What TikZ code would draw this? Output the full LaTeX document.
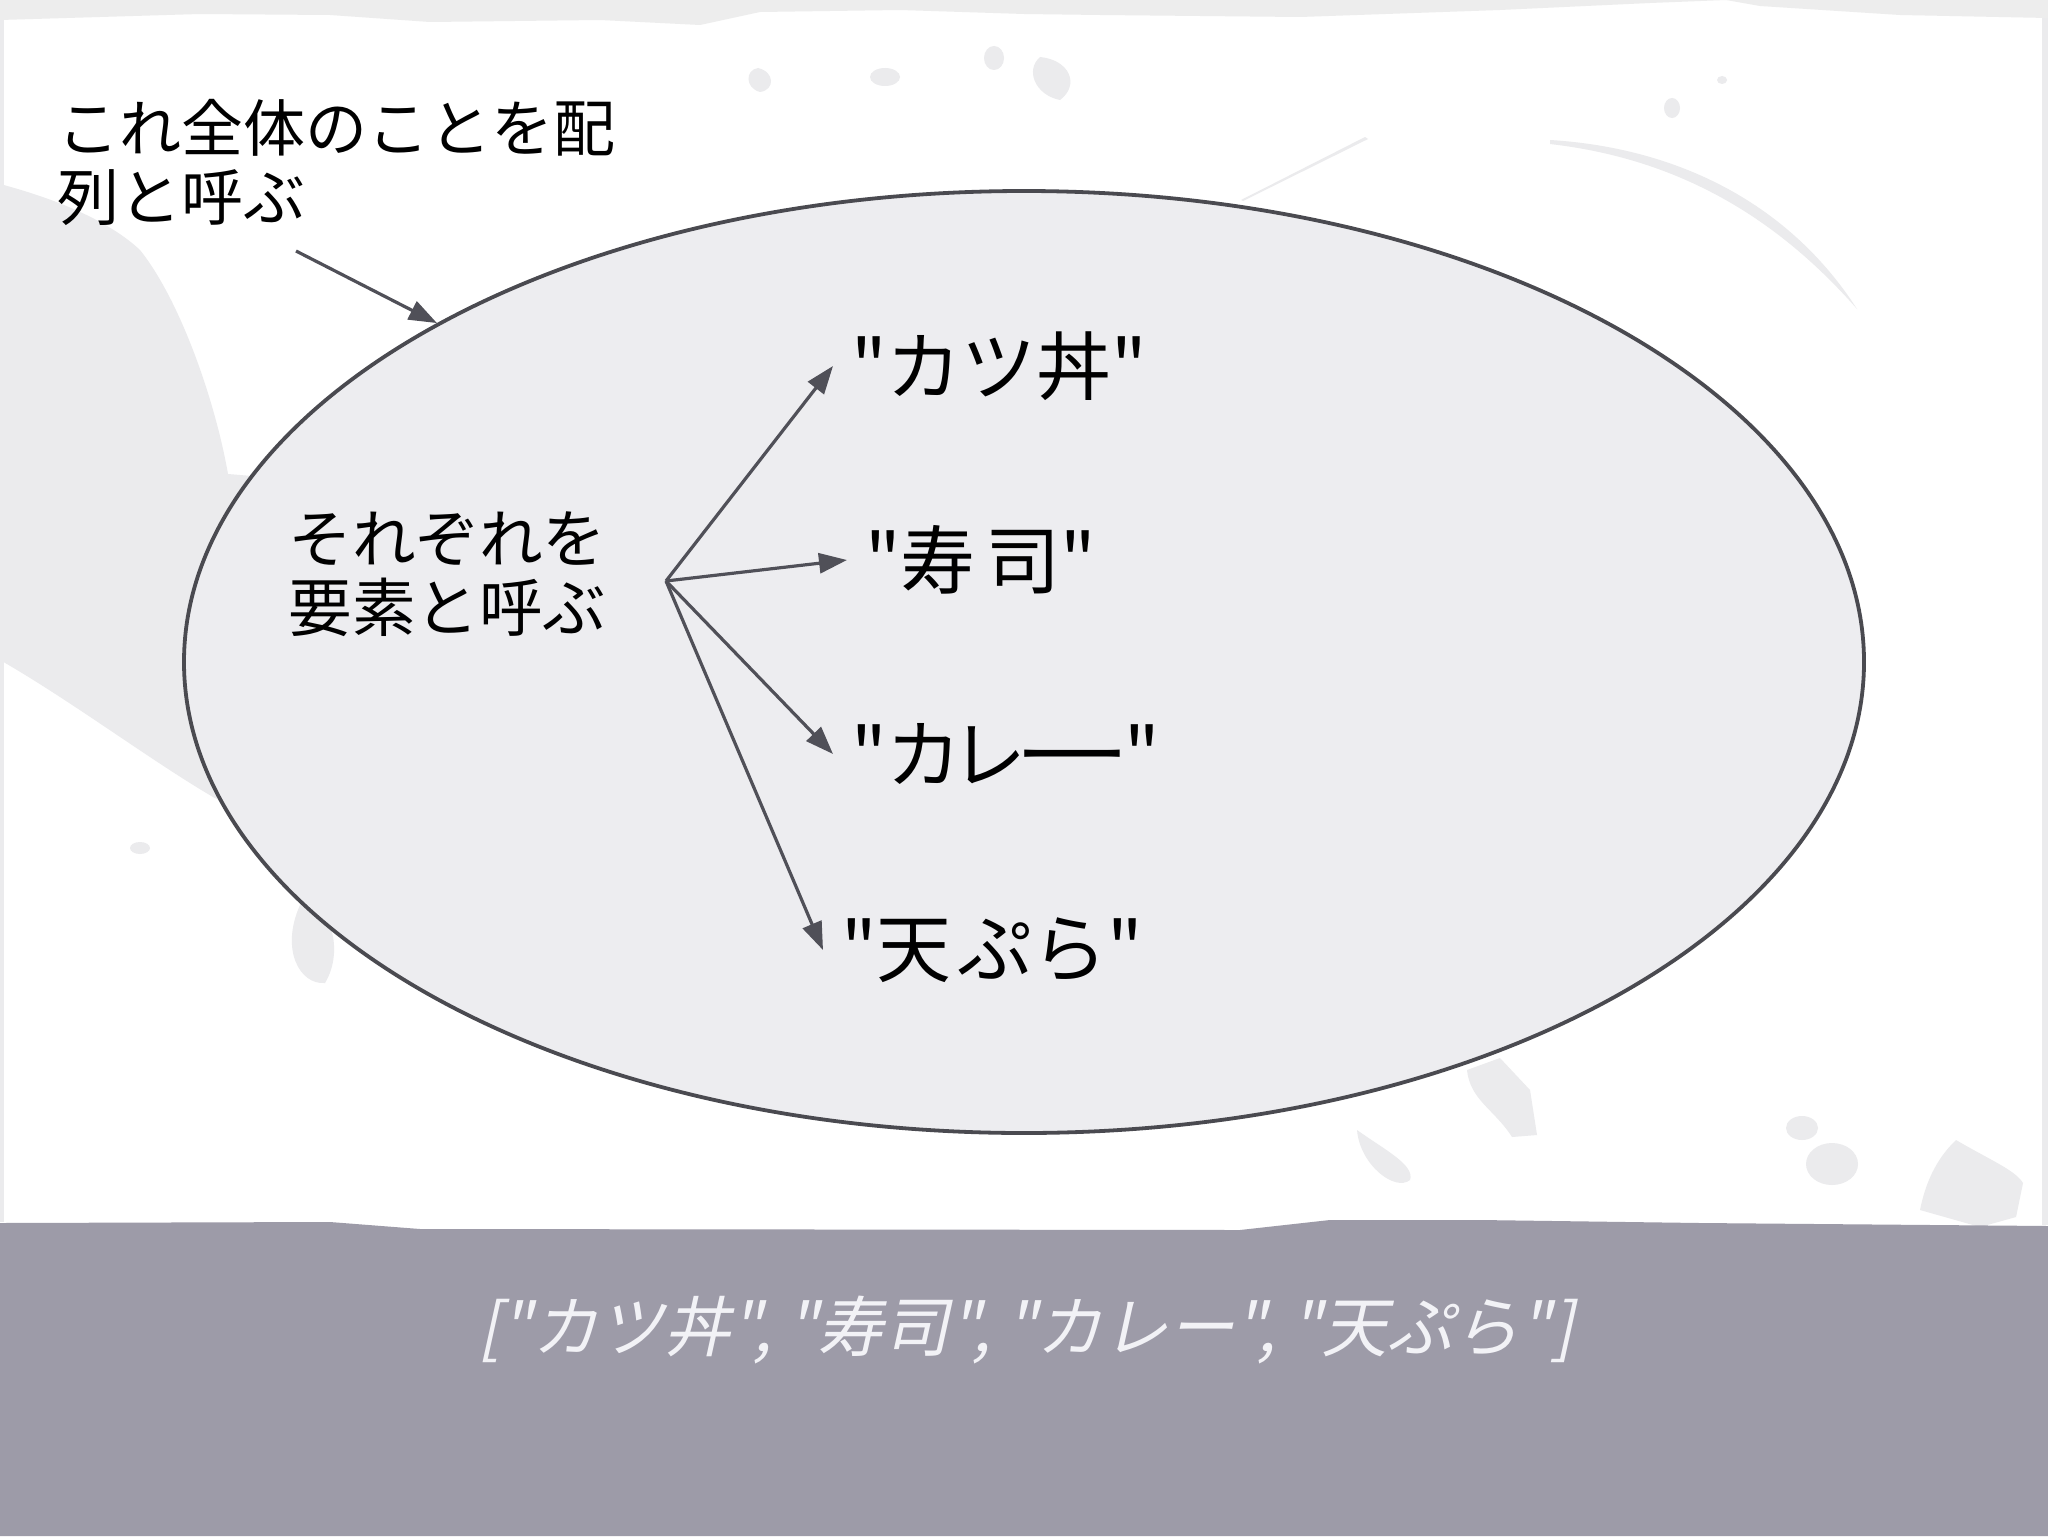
\documentclass[tikz,border=0pt]{standalone}
\usepackage{fontspec}
\newfontfamily\jp{Noto Sans CJK JP}
\newfontfamily\jpit[FakeSlant=0.22]{Noto Sans CJK JP}
\usetikzlibrary{shapes.geometric,arrows.meta}
\definecolor{bandgray}{HTML}{9D9BA8}
\definecolor{topgray}{HTML}{EDEDED}
\definecolor{brushgray}{HTML}{EBEBED}
\definecolor{ellfill}{HTML}{EDEDF0}
\definecolor{ellline}{HTML}{4A4A50}
\definecolor{arrgray}{HTML}{505058}
\definecolor{captext}{HTML}{F2F2F6}
\tikzset{
  brush/.style={fill=brushgray},
  bigell/.style={ellipse, draw=ellline, fill=ellfill, line width=1.9pt, inner sep=0pt,
                 minimum width=1680*0.5pt, minimum height=942*0.5pt},
  note/.style={font=\jp\fontsize{31}{34.5}\selectfont, align=left, inner sep=0pt, anchor=west, text=black},
  item/.style={font=\jp\fontsize{37.5}{45}\selectfont, inner sep=9pt, anchor=west, text=black},
  conn/.style={draw=arrgray, line width=1.6pt, -{Triangle[length=14pt,width=10pt]}, fill=arrgray},
  caption/.style={font=\jpit\fontsize{33}{40}\selectfont, text=captext, inner sep=0pt}
}
\begin{document}
\begin{tikzpicture}[x=0.5pt,y=-0.5pt]
\useasboundingbox (0,0) rectangle (2048,1536);
% canvas
\fill[white] (0,0) rectangle (2048,1536);
% top ragged band
\fill[topgray] (0,0) -- (2048,0) -- (2048,18) -- (1900,15) -- (1760,6) -- (1726,0)
  -- (1650,3) -- (1500,10) -- (1300,17) -- (1100,15) -- (1024,14) -- (900,10)
  -- (760,12) -- (700,25) -- (600,20) -- (430,22) -- (330,15) -- (200,14) -- (0,20) -- cycle;
% edge strips
\fill[brushgray] (0,20) rectangle (4,1222);
\fill[brushgray] (2042,18) rectangle (2048,1225);
% big left brush stroke
\fill[brush] (0,184) .. controls (60,200) and (110,222) .. (140,250)
  .. controls (180,300) and (215,400) .. (228,474) -- (300,480) -- (300,840)
  -- (213,797) .. controls (150,760) and (70,700) .. (0,660) -- cycle;
% small blobs
\fill[brush] (300,905) .. controls (330,900) and (345,950) .. (325,983)
  .. controls (300,985) and (280,950) .. (300,905) -- cycle;
\fill[brush] (140,848) ellipse (10 and 6);
\fill[brush] (758,68) .. controls (775,72) and (775,90) .. (760,92)
  .. controls (745,88) and (745,70) .. (758,68) -- cycle;
\fill[brush] (885,77) ellipse (15 and 9);
\fill[brush] (994,58) ellipse (10 and 12);
\fill[brush] (1040,57) .. controls (1070,60) and (1080,85) .. (1060,100)
  .. controls (1035,95) and (1025,70) .. (1040,57) -- cycle;
\fill[brush] (1672,108) ellipse (8 and 10);
\fill[brush] (1722,80) ellipse (5 and 4);
% thin strokes upper right
\fill[brush] (1550,140) .. controls (1680,148) and (1790,205) .. (1857,309)
  .. controls (1772,212) and (1672,158) .. (1550,144) -- cycle;
\fill[brush] (1365,137) -- (1368,139) -- (1243,201) -- (1241,200) -- cycle;
% lower right blobs
\fill[brush] (1357,1130) .. controls (1385,1150) and (1415,1165) .. (1410,1180)
  .. controls (1395,1192) and (1360,1165) .. (1357,1130) -- cycle;
\fill[brush] (1467,1070) -- (1500,1058) -- (1530,1090) -- (1537,1135) -- (1512,1137)
  .. controls (1495,1110) and (1470,1100) .. (1467,1070) -- cycle;
\fill[brush] (1802,1128) ellipse (16 and 12);
\fill[brush] (1832,1164) ellipse (26 and 21);
\fill[brush] (1956,1140) .. controls (1990,1160) and (2015,1170) .. (2023,1183)
  -- (2016,1217) -- (1980,1227) -- (1920,1210)
  .. controls (1925,1185) and (1935,1160) .. (1956,1140) -- cycle;
% bottom band
\fill[bandgray] (0,1536) -- (0,1223) -- (330,1222) -- (420,1229) -- (1240,1230)
  -- (1330,1220) -- (1480,1220) -- (1700,1223) -- (2048,1226) -- (2048,1536) -- cycle;

% main ellipse
\node[bigell] (ell) at (1024,662) {};

% texts
\node[note] (whole) at (57,162) {これ全体のことを配\\列と呼ぶ};
\node[note, font=\jp\fontsize{31.8}{34.5}\selectfont] (each) at (288,574) {それぞれを\\要素と呼ぶ};
\coordinate (wholeS) at (296,251);
\coordinate (hub) at (666,581);

\node[item] (k1) at (833,366) {"カツ丼"};
\node[item] (k2) at (847,560) {"寿\kern5pt司"};
\node[item] (k3) at (833,754) {"カ\kern-5pt レ\kern-7pt\scalebox{1.6}[1]{ー}\kern-4pt"};
\node[item] (k4) at (823,950) {"天\kern3pt ぷら"};

\draw[conn] (wholeS) -- (ell.150.5);
\draw[conn] (hub) -- (k1.west);
\draw[conn] (hub) -- (k2.west);
\draw[conn] (hub) -- (k3.west);
\draw[conn] (hub) -- (k4.west);

\node[caption] (arr) at (1026,1330) {["カツ丼", "寿司", "カレー", "天ぷら"]};
\end{tikzpicture}
\end{document}
